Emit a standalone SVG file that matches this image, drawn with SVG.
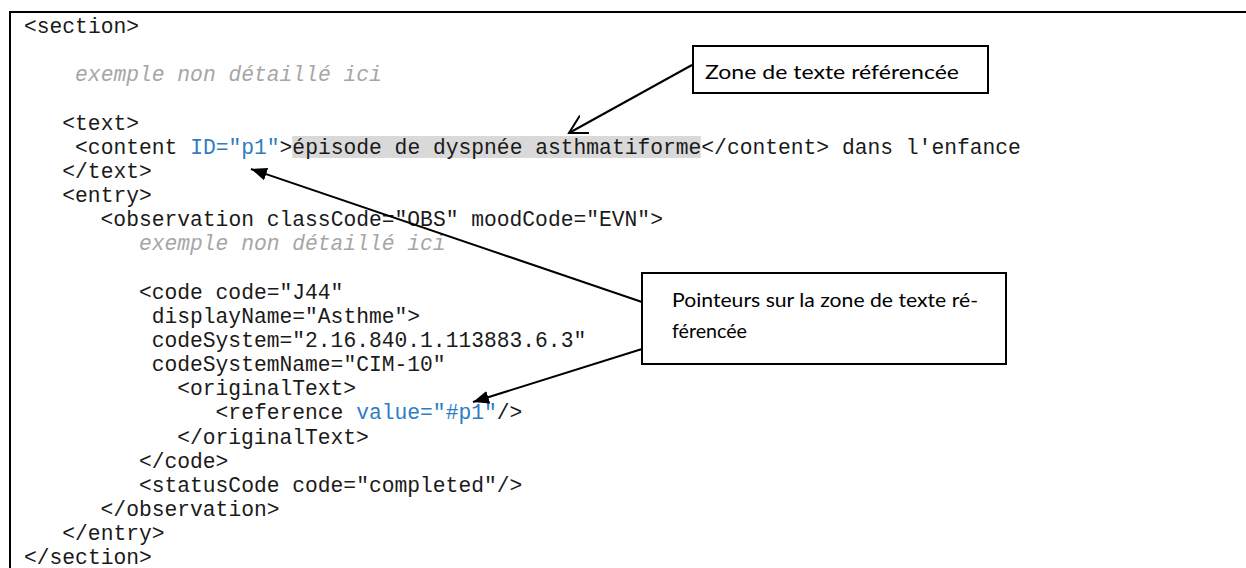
<svg xmlns="http://www.w3.org/2000/svg" width="1246" height="568" viewBox="0 0 1246 568">
  <style>
    .code { font-family: "Liberation Mono", "Courier New", monospace; font-size: 21.3px; fill: #1a1a1a; }
    .cmt { font-family: "Liberation Mono", "Courier New", monospace; font-size: 21.3px; font-style: italic; fill: #a6a6a6; }
    .attr { fill: #2e7cc4; }
    .note { font-family: Lato, "Liberation Sans", sans-serif; font-size: 20px; fill: #000; }
    .box { fill: #fff; stroke: #000; stroke-width: 2; }
    .conn { stroke: #000; stroke-width: 2; fill: none; }
  </style>
  <defs>
    <marker id="openArrow" markerUnits="userSpaceOnUse" markerWidth="24" markerHeight="24" refX="18" refY="10" orient="auto">
      <path d="M0,0 L18,10 L0,20" fill="none" stroke="#000" stroke-width="2"/>
    </marker>
    <marker id="solidArrow" markerUnits="userSpaceOnUse" markerWidth="20" markerHeight="16" refX="16" refY="6.5" orient="auto">
      <path d="M0,0 L16,6.5 L0,13 Z" fill="#000"/>
    </marker>
  </defs>

  <rect width="1246" height="568" fill="#fff"/>

  <g id="frame">
    <path d="M10,568 V12 H1246" fill="none" stroke="#000" stroke-width="2"/>
  </g>

  <g id="code-listing">
    <rect x="292.2" y="136" width="408.6" height="22" fill="#d9d9d9"/>
    <text class="code" x="24" y="33">&lt;section&gt;</text>
    <text class="cmt" x="75.1" y="81.3">exemple non détaillé ici</text>
    <text class="code" x="62.3" y="129.6">&lt;text&gt;</text>
    <text class="code" x="75.1" y="153.75">&lt;content <tspan class="attr">ID="p1"</tspan>&gt;épisode de dyspnée asthmatiforme&lt;/content&gt; dans l'enfance</text>
    <text class="code" x="62.3" y="177.9">&lt;/text&gt;</text>
    <text class="code" x="62.3" y="202">&lt;entry&gt;</text>
    <text class="code" x="100.6" y="226.2">&lt;observation classCode="OBS" moodCode="EVN"&gt;</text>
    <text class="cmt" x="138.9" y="250.4">exemple non détaillé ici</text>
    <text class="code" x="138.9" y="298.7">&lt;code code="J44"</text>
    <text class="code" x="151.7" y="322.8">displayName="Asthme"&gt;</text>
    <text class="code" x="151.7" y="347">codeSystem="2.16.840.1.113883.6.3"</text>
    <text class="code" x="151.7" y="371.1">codeSystemName="CIM-10"</text>
    <text class="code" x="177.2" y="395.3">&lt;originalText&gt;</text>
    <text class="code" x="215.6" y="419.4">&lt;reference <tspan class="attr">value="#p1"</tspan>/&gt;</text>
    <text class="code" x="177.2" y="443.6">&lt;/originalText&gt;</text>
    <text class="code" x="138.9" y="467.7">&lt;/code&gt;</text>
    <text class="code" x="138.9" y="491.9">&lt;statusCode code="completed"/&gt;</text>
    <text class="code" x="100.6" y="516">&lt;/observation&gt;</text>
    <text class="code" x="62.3" y="540.2">&lt;/entry&gt;</text>
    <text class="code" x="24" y="564.3">&lt;/section&gt;</text>
  </g>

  <g id="connectors">
    <line class="conn" x1="692" y1="65" x2="569" y2="133" marker-end="url(#openArrow)"/>
    <line class="conn" x1="642" y1="302" x2="251" y2="169" marker-end="url(#solidArrow)"/>
    <line class="conn" x1="642" y1="349" x2="473" y2="402" marker-end="url(#solidArrow)"/>
  </g>

  <g id="note-zone">
    <rect class="box" x="693" y="46" width="295" height="47"/>
    <text class="note" x="705" y="79" textLength="254" lengthAdjust="spacingAndGlyphs">Zone de texte référencée</text>
  </g>

  <g id="note-pointeurs">
    <rect class="box" x="642" y="273" width="364" height="91"/>
    <text class="note" x="672" y="307" textLength="306" lengthAdjust="spacingAndGlyphs">Pointeurs sur la zone de texte ré-</text>
    <text class="note" x="672" y="338" textLength="75" lengthAdjust="spacingAndGlyphs">férencée</text>
  </g>
</svg>
